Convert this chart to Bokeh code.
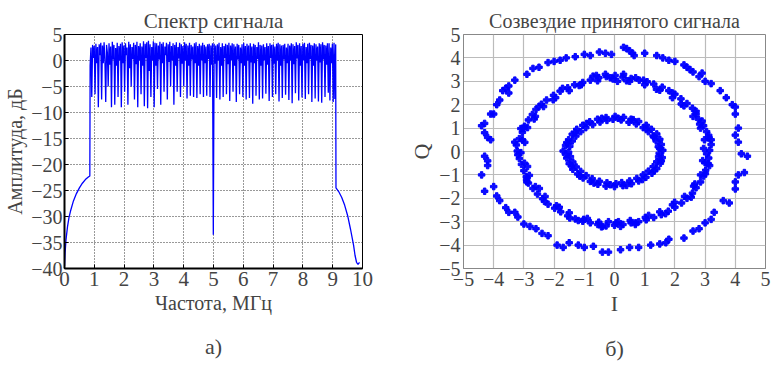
import numpy as np
from bokeh.plotting import figure
from bokeh.layouts import row
from bokeh.models import Title, FixedTicker, Range1d
from bokeh.embed import file_html
from bokeh.resources import INLINE

FONT = "Liberation Serif"
BLUE = "#0000ff"

# ---------------- spectrum data ----------------
skirt_left_f = [0.0, 0.02, 0.05, 0.1, 0.15, 0.2, 0.3, 0.4, 0.5, 0.6, 0.7, 0.8, 0.85]
skirt_left_a = [-39.5, -37.0, -34.5, -32.0, -30.2, -29.0, -27.0, -25.6, -24.5, -23.6, -22.9, -22.4, -22.2]

band_start, band_stop = 0.86, 9.10
band_amp = [
    -1, 2.5, -7, 3, 0.5, 2.8, -6.5, 3.2, -0.5, 2.6,
    -9, 3.1, 1, 3.4, -7.5, 2.9, -0.5, 3.5, 0, -8,
    3, 1.5, -5, 3.3, -0.8, 2.7, -9, 3.6, 0.2, 3,
    -8.5, 2.4, -1, 3.4, -7, 2.8, 0, 3.2, -9, 3.5,
    -0.5, 2.9, -6, 3.3, 1, 2.5, -8.5, 3.6, -1.5, 3.1,
    -5, 2.6, 0.3, 3.4, -7.5, 3, -0.7, 3.6, -9, 2.8,
    0, 3.3, -6.5, 2.7, -1, 3.7, -8.8, 3.2, 0.5, 3.5,
    -9.2, 3.8, -2, 3.1, -7, 2.6, 0, 3.7, -9, 3.4,
    -1, 3.3, -5.5, 2.9, 0.2, 3.6, -8.5, 3.2, -0.5, 3.5,
    -6, 2.7, 1, 3.4, -7.5, 3.1, -0.3, 3.6, -5, 2.8,
    0, 3.3, -8.5, 3, -1, 3.5, -6, 2.6, 0.4, 3.4,
    -7, 3.1, -0.6, 2.8, -5, 3.5, 0, 3.2, -7.3, 2.9,
    -1, 3.4, -6.8, 3, 0.2, 2.7, -7, 3.3, -0.5, 3.5,
    -7.2, 2.8, -1, 3.2, -6.5, 2.9, 0, 3.4, -7, 3,
    -0.5, 2.7, -6.8, 3.1, 0.3, 3.2, -7, 2.9, -0.8, 3.3,
    -33.5, 3.2, -0.6, 2.9, -7.2, 3.1, 0, 3.4, -7.5, 2.6,
    -1, 3.3, -7, 2.8, 0.5, 3.2, -6.5, 3, -0.7, 3.4,
    -7.8, 2.9, 0, 3.3, -6, 3.1, -1, 2.7, -8, 3.2,
    0.2, 3, -6.5, 2.5, -0.5, 3.1, -7, 3.4, -1, 2.8,
    -7.5, 3.2, 0, 2.9, -7.2, 3.3, -0.4, 2.7, -8.3, 3.2,
    -0.5, 3, -6.8, 2.6, 0.3, 3.5, -7.5, 3, -1, 2.9,
    -7.3, 3.1, 0, 2.6, -6.4, 3.3, -0.8, 2.8, -7.8, 3.3,
    0.5, 3, -7, 3.1, -0.6, 2.7, -6.5, 3.2, 0, 3.4,
    -7.9, 3.1, -1, 2.9, -7.2, 3, 0.2, 3.2, -6.6, 2.5,
    -0.5, 3.2, -7.6, 2.9, 0, 3.3, -8.2, 3.1, -0.7, 2.8,
    -6.3, 3.5, 0.4, 3, -7.7, 3.3, -1, 2.8, -7.1, 3.2,
    0, 3.4, -7.4, 2.6, -0.5, 3.2, -6.5, 3.4, 0.3, 3,
    -8, 2.9, -1, 3.3, -7.3, 3.1, 0, 2.7, -7.9, 3.3,
    -0.4, 3.1, -8.1, 3.5, 0.2, 3, -7, 2.9, -0.8, 3.3,
    -6.2, 3.3, -7.7, 2.5, -0.5, 3.2, -8, 3.4, -7.4, 3.1,
]

skirt_right_f = [9.11, 9.2, 9.3, 9.4, 9.5, 9.6, 9.7, 9.75, 9.8, 9.85, 9.9]
skirt_right_a = [-24.5, -25.2, -26.3, -27.8, -29.8, -32.5, -35.5, -37.5, -38.8, -39.2, -38.8]

spec_x_ticks = [0, 1, 2, 3, 4, 5, 6, 7, 8, 9, 10]
spec_y_ticks = [-40, -35, -30, -25, -20, -15, -10, -5, 0, 5]

# ---------------- constellation data ----------------
inner_pts = [
    (1.60, 0.05), (1.48, -0.08), (1.55, 0.30), (1.45, 0.20), (1.50, 0.52), (1.38, 0.45),
    (1.40, 0.75), (1.28, 0.66), (1.22, 0.95), (1.12, 0.85), (1.05, 1.12), (0.95, 1.02),
    (0.80, 1.28), (0.72, 1.18), (0.55, 1.38), (0.48, 1.25), (0.30, 1.46), (0.22, 1.35),
    (0.02, 1.50), (-0.05, 1.38), (-0.28, 1.45), (-0.25, 1.33), (-0.56, 1.38), (-0.48, 1.26),
    (-0.82, 1.27), (-0.72, 1.15), (-1.05, 1.12), (-0.95, 1.02), (-1.25, 0.95), (-1.12, 0.85),
    (-1.40, 0.74), (-1.28, 0.66), (-1.52, 0.50), (-1.40, 0.45), (-1.62, 0.26), (-1.48, 0.22),
    (-1.70, 0.02), (-1.52, -0.03), (-1.58, -0.28), (-1.46, -0.22), (-1.50, -0.52), (-1.38, -0.45),
    (-1.38, -0.76), (-1.27, -0.66), (-1.22, -0.96), (-1.12, -0.85), (-1.04, -1.13), (-0.94, -1.03),
    (-0.80, -1.28), (-0.74, -1.16), (-0.55, -1.40), (-0.50, -1.27), (-0.28, -1.48), (-0.25, -1.34),
    (0.00, -1.50), (0.05, -1.38), (0.28, -1.46), (0.24, -1.33), (0.56, -1.38), (0.50, -1.26),
    (0.80, -1.26), (0.74, -1.15), (1.04, -1.10), (0.95, -1.00), (1.24, -0.93), (1.12, -0.84),
    (1.40, -0.73), (1.28, -0.65), (1.52, -0.50), (1.40, -0.44), (1.58, -0.26), (1.46, -0.22),
    (1.50, 0.12), (1.30, 0.62), (1.05, 0.98), (0.62, 1.36), (0.12, 1.42), (-0.42, 1.42),
    (-0.92, 1.20), (-1.30, 0.80), (-1.58, 0.38), (-1.62, -0.12), (-1.42, -0.62), (-1.15, -1.05),
    (-0.68, -1.35), (-0.14, -1.42), (0.40, -1.45), (0.92, -1.20), (1.32, -0.82), (1.55, -0.40),
]

middle_pts = [
    (3.15, 0.05), (3.05, -0.10), (3.20, 0.30), (3.12, 0.58), (2.98, 0.50), (3.05, 0.85),
    (2.95, 1.10), (2.85, 1.00), (2.78, 1.38), (2.70, 1.60), (2.60, 1.50), (2.58, 1.85),
    (2.40, 2.05), (2.30, 1.95), (2.20, 2.25), (2.00, 2.45), (1.92, 2.30), (1.80, 2.60),
    (1.58, 2.75), (1.50, 2.62), (1.30, 2.88), (1.08, 2.98), (1.00, 2.85), (0.82, 3.05),
    (0.55, 3.12), (0.50, 3.00), (0.28, 3.18), (0.02, 3.25), (-0.05, 3.10), (-0.27, 3.20),
    (-0.52, 3.15), (-0.56, 3.02), (-0.80, 3.05), (-1.05, 2.95), (-1.10, 2.85), (-1.32, 2.85),
    (-1.55, 2.72), (-1.50, 2.60), (-1.80, 2.58), (-2.02, 2.40), (-1.95, 2.30), (-2.25, 2.20),
    (-2.42, 2.02), (-2.35, 1.92), (-2.60, 1.80), (-2.72, 1.58), (-2.62, 1.50), (-2.85, 1.35),
    (-2.98, 1.08), (-2.88, 1.02), (-3.05, 0.82), (-3.15, 0.55), (-3.05, 0.50), (-3.25, 0.28),
    (-3.22, 0.02), (-3.10, -0.05), (-3.15, -0.30), (-3.08, -0.55), (-2.98, -0.50), (-3.00, -0.82),
    (-2.92, -1.08), (-2.82, -1.02), (-2.85, -1.35), (-2.70, -1.58), (-2.62, -1.50), (-2.55, -1.82),
    (-2.38, -2.02), (-2.30, -1.92), (-2.20, -2.25), (-1.98, -2.42), (-1.92, -2.32), (-1.78, -2.58),
    (-1.55, -2.75), (-1.50, -2.62), (-1.30, -2.88), (-1.05, -2.98), (-1.02, -2.90), (-0.80, -3.05),
    (-0.55, -3.12), (-0.52, -3.02), (-0.28, -3.18), (0.00, -3.15), (0.05, -3.05), (0.28, -3.12),
    (0.55, -3.05), (0.52, -2.95), (0.80, -3.00), (1.05, -2.92), (1.02, -2.82), (1.30, -2.82),
    (1.55, -2.70), (1.50, -2.58), (1.78, -2.55), (2.00, -2.38), (1.92, -2.28), (2.22, -2.20),
    (2.40, -2.00), (2.32, -1.92), (2.58, -1.78), (2.70, -1.55), (2.62, -1.48), (2.85, -1.30),
    (2.95, -1.05), (2.85, -1.00), (3.02, -0.80), (3.10, -0.52), (3.00, -0.48), (3.12, -0.28),
    (-0.30, 3.30), (0.30, 3.30), (-0.60, 3.25), (0.10, 3.00), (0.70, 3.15),
    (-0.40, -3.20), (0.20, -3.20), (-0.20, -3.00), (-1.20, -2.95), (0.70, -3.05),
    (-3.30, 0.40), (-3.00, 1.00), (-2.90, -1.30), (3.20, 0.50), (3.15, -0.60), (2.90, 1.30),
    (2.95, 0.13), (3.12, 0.69), (2.82, 1.17), (2.70, 1.72), (2.21, 2.03), (1.92, 2.50),
    (1.39, 2.66), (0.96, 3.05), (0.40, 3.02), (-0.14, 3.15), (-0.71, 3.22), (-1.17, 2.82),
    (-1.72, 2.70), (-2.03, 2.21), (-2.50, 1.92), (-2.66, 1.39), (-3.10, 0.98), (-2.97, 0.39),
    (-3.20, -0.14), (-2.88, -0.64), (-2.91, -1.21), (-2.49, -1.58), (-2.32, -2.13), (-1.83, -2.38),
    (-1.48, -2.84), (-0.90, -2.86), (-0.43, -3.22), (0.13, -3.00), (0.69, -3.12), (1.13, -2.73),
    (1.69, -2.66), (1.99, -2.17), (2.54, -1.95), (2.66, -1.39), (3.01, -0.95), (2.92, -0.39),
]

outer_pts = [
    (0.30, 4.45), (0.40, 4.40), (0.50, 4.30), (0.60, 4.20), (0.65, 4.10), (1.00, 4.20),
    (1.40, 4.10), (1.60, 4.00), (1.80, 3.90), (2.00, 3.85), (2.30, 3.70), (2.40, 3.60),
    (2.50, 3.50), (2.60, 3.40), (-0.10, 4.15), (-0.30, 4.20), (-0.50, 4.25), (-0.80, 4.10),
    (-1.00, 4.15), (-1.30, 4.05), (-1.60, 4.00), (-1.80, 3.90), (-2.00, 3.85), (-2.20, 3.80),
    (-2.50, 3.60), (-2.70, 3.55), (-2.90, 3.30), (-3.30, 3.05), (-3.50, 2.80), (-3.60, 2.70),
    (-3.50, 2.50), (-3.70, 2.60), (-3.80, 2.20), (-3.90, 2.00), (-4.00, 1.60), (-4.10, 1.60),
    (-4.30, 1.20), (-4.40, 1.10), (-4.30, 0.80), (-4.20, 0.60), (-4.10, 0.50), (-4.30, -0.20),
    (-4.20, -0.40), (-4.20, -0.60), (-4.40, -1.00), (-4.30, -1.70), (-4.00, -1.50), (-3.90, -1.90),
    (-3.80, -2.10), (-3.60, -2.40), (-3.50, -2.60), (-3.30, -2.60), (-3.20, -2.80), (-3.00, -3.10),
    (-2.80, -3.20), (-2.60, -3.30), (-2.40, -3.50), (-2.20, -3.60), (-1.90, -4.00), (-1.70, -4.10),
    (-1.50, -3.90), (-1.20, -4.00), (-1.00, -4.10), (-0.70, -4.05), (-0.40, -4.30), (-0.20, -4.30),
    (0.20, -4.20), (0.50, -4.10), (0.80, -4.10), (1.20, -4.00), (1.50, -3.95), (1.70, -3.90),
    (1.80, -3.75), (2.30, -3.70), (2.60, -3.40), (2.80, -3.30), (3.00, -3.05), (3.20, -2.90),
    (3.30, -2.60), (3.60, -2.10), (3.80, -2.20), (4.00, -1.60), (4.00, -1.30), (4.10, -1.00),
    (4.30, -0.90), (4.40, -0.20), (4.20, -0.10), (4.10, 0.40), (4.00, 0.70), (4.10, 1.00),
    (4.00, 1.60), (4.00, 1.90), (3.90, 2.00), (3.70, 2.30), (3.50, 2.60), (3.20, 2.90),
    (3.00, 3.00), (2.80, 3.20), (2.90, 3.35),
]

iq_ticks = [-5, -4, -3, -2, -1, 0, 1, 2, 3, 4, 5]

# ---------------- left: spectrum ----------------
band_f = np.linspace(band_start, band_stop, len(band_amp))
spec_f = list(skirt_left_f) + list(band_f) + list(skirt_right_f)
spec_a = list(skirt_left_a) + list(band_amp) + list(skirt_right_a)

p1 = figure(width=390, height=379, output_backend="svg", toolbar_location=None,
            x_range=Range1d(0, 10), y_range=Range1d(-40, 5),
            min_border_left=64, min_border_right=28, min_border_top=34, min_border_bottom=111,
            title="Спектр сигнала")
p1.line(spec_f, spec_a, line_color=BLUE, line_width=1.3)

p1.title.text_font = FONT
p1.title.text_font_size = "21px"
p1.title.text_font_style = "normal"
p1.title.align = "center"
p1.title.standoff = 4

p1.xaxis.ticker = FixedTicker(ticks=spec_x_ticks)
p1.yaxis.ticker = FixedTicker(ticks=spec_y_ticks)
p1.xaxis.axis_label = "Частота, МГц"
p1.yaxis.axis_label = "Амплитуда, дБ"
for ax in (p1.xaxis[0], p1.yaxis[0]):
    ax.axis_label_text_font = FONT
    ax.axis_label_text_font_size = "20px"
    ax.axis_label_text_font_style = "normal"
    ax.major_label_text_font = FONT
    ax.axis_line_width = 2
    ax.axis_line_color = "black"
    ax.major_tick_out = 0
    ax.major_tick_in = 4
    ax.major_tick_line_color = "black"
    ax.minor_tick_line_color = None
p1.xaxis[0].major_label_text_font_size = "21px"
p1.xaxis[0].major_label_standoff = 3
p1.xaxis[0].axis_label_standoff = 3
p1.yaxis[0].major_label_text_font_size = "20px"
p1.yaxis[0].major_label_standoff = 2
p1.yaxis[0].axis_label_standoff = 2
p1.xgrid.grid_line_color = "#333333"
p1.ygrid.grid_line_color = "#333333"
p1.xgrid.grid_line_dash = "1 2"
p1.ygrid.grid_line_dash = "1 2"
p1.outline_line_color = "black"
p1.outline_line_width = 1
p1.background_fill_color = "white"
p1.border_fill_color = "white"
p1.add_layout(Title(text="а)", align="center", text_font=FONT, text_font_size="22px",
                    text_font_style="normal", standoff=31), "below")

# ---------------- right: constellation ----------------
all_pts = inner_pts + middle_pts + outer_pts
iq_i = [pt[0] for pt in all_pts]
iq_q = [pt[1] for pt in all_pts]

p2 = figure(width=385, height=379, output_backend="svg", toolbar_location=None,
            x_range=Range1d(-5, 5), y_range=Range1d(-5, 5),
            min_border_left=73, min_border_right=10, min_border_top=30, min_border_bottom=111,
            title="Созвездие принятого сигнала")
p2.scatter(iq_i, iq_q, marker="plus", size=6.5, color=BLUE, alpha=0.95)

p2.title.text_font = FONT
p2.title.text_font_size = "20px"
p2.title.text_font_style = "normal"
p2.title.align = "center"
p2.title.standoff = 5

p2.xaxis.ticker = FixedTicker(ticks=iq_ticks)
p2.yaxis.ticker = FixedTicker(ticks=iq_ticks)
p2.xaxis.axis_label = "I"
p2.yaxis.axis_label = "Q"
for ax in (p2.xaxis[0], p2.yaxis[0]):
    ax.axis_label_text_font = FONT
    ax.axis_label_text_font_size = "22px"
    ax.axis_label_text_font_style = "normal"
    ax.axis_label_standoff = 2
    ax.major_label_text_font = FONT
    ax.major_label_text_font_size = "20px"
    ax.major_label_standoff = 3
    ax.axis_line_color = "#888888"
    ax.major_tick_out = 0
    ax.major_tick_in = 0
    ax.minor_tick_line_color = None
p2.xgrid.grid_line_color = "#bbbbbb"
p2.ygrid.grid_line_color = "#bbbbbb"
p2.xgrid.grid_line_width = 1.2
p2.ygrid.grid_line_width = 1.2
p2.outline_line_color = "#888888"
p2.background_fill_color = "white"
p2.border_fill_color = "white"
p2.add_layout(Title(text="б)", align="center", text_font=FONT, text_font_size="22px",
                    text_font_style="normal", standoff=31), "below")

layout = row(p1, p2)
open("out.html", "w").write(file_html(layout, INLINE))
